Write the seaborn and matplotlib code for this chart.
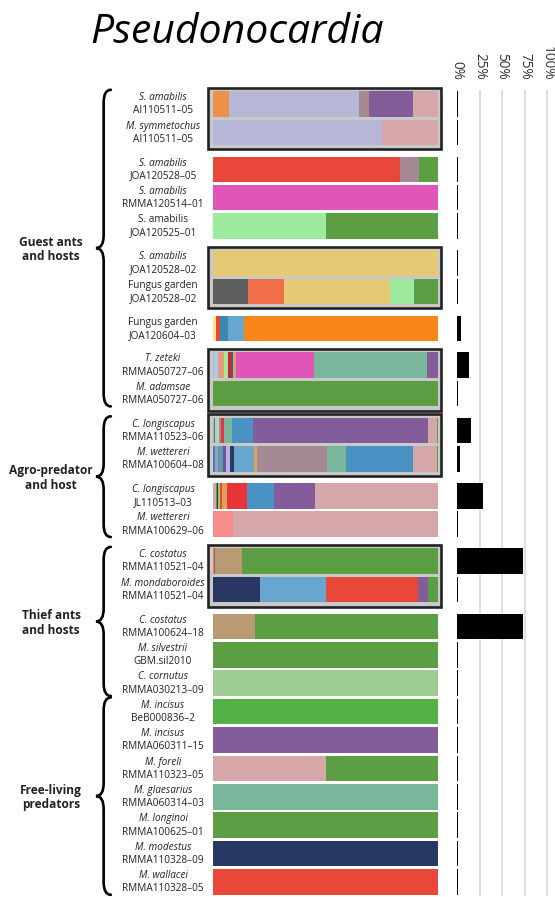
import matplotlib
matplotlib.use("Agg")
import matplotlib.pyplot as plt
from matplotlib.patches import Rectangle, PathPatch
from matplotlib.path import Path
import pandas as pd
import seaborn as sns

# ---- data -----------------------------------------------------------------
species = [
    "S. amabilis", "M. symmetochus", "S. amabilis", "S. amabilis", "S. amabilis",
    "S. amabilis", "Fungus garden", "Fungus garden", "T. zeteki", "M. adamsae",
    "C. longiscapus", "M. wettereri", "C. longiscapus", "M. wettereri",
    "C. costatus", "M. mondaboroides", "C. costatus", "M. silvestrii", "C. cornutus",
    "M. incisus", "M. incisus", "M. foreli", "M. glaesarius", "M. longinoi",
    "M. modestus", "M. wallacei",
]
samples = [
    "AI110511–05", "AI110511–05", "JOA120528–05", "RMMA120514–01", "JOA120525–01",
    "JOA120528–02", "JOA120528–02", "JOA120604–03", "RMMA050727–06", "RMMA050727–06",
    "RMMA110523–06", "RMMA100604–08", "JL110513–03", "RMMA100629–06",
    "RMMA110521–04", "RMMA110521–04", "RMMA100624–18", "GBM.sil2010", "RMMA030213–09",
    "BeB000836–2", "RMMA060311–15", "RMMA110323–05", "RMMA060314–03", "RMMA100625–01",
    "RMMA110328–09", "RMMA110328–05",
]
species_italic = [
    True, True, True, True, False, True, False, False, True, True,
    True, True, True, True, True, True, True, True, True,
    True, True, True, True, True, True, True,
]

# relative abundance of Pseudonocardia phylotypes per sample (%)
compositions = [
    [("orange_lt", 7), ("lavender", 58), ("mauve", 4.5), ("purple", 19.5), ("pink", 11)],
    [("lavender", 75), ("pink", 25)],
    [("red", 83), ("mauve", 8.5), ("green", 8.5)],
    [("magenta", 100)],
    [("mint", 50), ("green", 50)],
    [("sand", 100)],
    [("charcoal", 15.5), ("coral", 16), ("sand", 47), ("mint", 10.8), ("green", 10.7)],
    [("yellow", 1.3), ("red", 1.8), ("teal", 3.5), ("sky", 7), ("orange", 86.4)],
    [("lavender", 0.5), ("ice", 1.5), ("salmon", 3), ("mint", 1.8), ("scarlet", 1.4),
     ("royal", 0.5), ("ochre", 1.3), ("magenta", 35), ("seafoam", 50), ("purple", 5)],
    [("green", 100)],
    [("lime", 0.5), ("purple", 0.5), ("ice", 0.8), ("mint", 0.8), ("mauve", 0.8),
     ("crimson", 1.5), ("seafoam", 3.5), ("blue", 9.3), ("purple", 77.7), ("pink", 4),
     ("green", 0.6)],
    [("teal", 0.9), ("lilac", 1.3), ("cadet", 2.2), ("violet", 1.3), ("lavender", 1.8),
     ("navy", 1.8), ("sky", 8.9), ("ochre", 1.3), ("mauve", 31), ("seafoam", 8.5),
     ("blue", 29.9), ("pink", 10.7), ("green", 0.4)],
    [("pink", 1.3), ("green", 0.5), ("navy", 0.5), ("lime", 0.9), ("red", 0.9),
     ("ochre", 2.2), ("crimson", 8.9), ("blue", 12), ("purple", 18.2), ("pink", 54.6)],
    [("rose", 9), ("pink", 91)],
    [("orange", 0.5), ("purple", 0.5), ("tan", 12), ("green", 87)],
    [("navy", 21), ("sky", 29), ("red", 41), ("purple", 4.5), ("green", 4.5)],
    [("tan", 18.7), ("green", 81.3)],
    [("green", 100)],
    [("sage", 100)],
    [("leaf", 100)],
    [("purple", 100)],
    [("pink", 50), ("green", 50)],
    [("seafoam", 100)],
    [("green", 100)],
    [("navy", 100)],
    [("red", 100)],
]

# share of reads that are Pseudonocardia (%)
pseudonocardia_pct = [
    1.2, 1.2, 1.2, 1.2, 1.2, 1.2, 1.2, 4.4, 13, 1.2,
    15.5, 3.3, 29, 1.2, 73, 1.2, 73, 1.2, 1.2,
    1.2, 1.2, 1.2, 1.2, 1.2, 1.2, 1.2,
]

group_names = ["Guest ants\nand hosts", "Agro-predator\nand host",
               "Thief ants\nand hosts", "Free-living\npredators"]
group_rows = [(0, 9), (10, 13), (14, 18), (19, 25)]
paired_rows = [(0, 1), (5, 6), (8, 9), (10, 11), (14, 15)]
gap_after = [1, 4, 6, 7, 9, 11, 13, 15]
pct_ticks = [0, 25, 50, 75, 100]
pct_labels = ["0%", "25%", "50%", "75%", "100%"]

palette = {
    "orange_lt": "#EE9148", "lavender": "#B7B6D7", "mauve": "#A58A96",
    "purple": "#835C9A", "pink": "#D6A7A9", "red": "#E8473A", "green": "#5C9E43",
    "magenta": "#E055B5", "mint": "#9EEBA0", "sand": "#E5C974", "charcoal": "#5E5E5E",
    "coral": "#F06E49", "yellow": "#F7E58A", "teal": "#3789AF", "sky": "#68A6CF",
    "orange": "#F8861B", "ice": "#A8CDEA", "salmon": "#E99B82", "scarlet": "#E01E1E",
    "royal": "#3064B0", "ochre": "#DFA258", "seafoam": "#79B79C", "lime": "#9ACD5A",
    "crimson": "#E83436", "blue": "#4A92C4", "lilac": "#A993CD", "cadet": "#5A9FA6",
    "violet": "#7A4AA8", "navy": "#293763", "rose": "#F98B8A", "tan": "#B89B74",
    "sage": "#9CCE93", "leaf": "#53B047",
}

# ---- style ----------------------------------------------------------------
sns.set_theme(style="white")
plt.rcParams["font.family"] = ["Open Sans", "DejaVu Sans"]
TEXT = "#222222"

# row positions, with a little extra space between sample blocks
ypos = []
y = 0.0
for i in range(len(species)):
    ypos.append(y)
    y += 1.0 + (0.3 if i in gap_after else 0.0)
y_top, y_bot = ypos[0] - 0.5, ypos[-1] + 0.5

W, H = 555, 897
fig = plt.figure(figsize=(W / 100, H / 100), dpi=100)


def px_box(x0, x1, top, bottom):
    return [x0 / W, 1 - bottom / H, (x1 - x0) / W, (bottom - top) / H]


ax = fig.add_axes(px_box(213, 438, 89.8, 896.2))
ax2 = fig.add_axes(px_box(457, 547.9, 89.8, 896.2))

# ---- stacked composition bars ---------------------------------------------
for yy, comp in zip(ypos, compositions):
    total = sum(v for _, v in comp)
    left = 0.0
    for key, v in comp:
        w = v / total * 100
        ax.barh(yy, w, left=left, height=0.9, color=palette[key], linewidth=0, zorder=2)
        left += w

# frames around ant / host (or garden) pairs from the same colony
for a, b in paired_rows:
    ax.add_patch(Rectangle((-2.2, ypos[a] - 0.58), 103.5, ypos[b] - ypos[a] + 1.18,
                           facecolor="#C9C9C9", edgecolor="#222222", linewidth=1.9,
                           zorder=1, clip_on=False))

ax.set_xlim(0, 100)
ax.set_ylim(y_bot, y_top)
ax.axis("off")

# sample labels
for yy, sp, sm, it in zip(ypos, species, samples, species_italic):
    ax.text(-22.2, yy - 0.22, sp, ha="center", va="center", fontsize=7.2,
            style="italic" if it else "normal", color=TEXT, clip_on=False)
    ax.text(-22.2, yy + 0.24, sm, ha="center", va="center", fontsize=7.2,
            color=TEXT, clip_on=False)


# curly braces and group names
def brace(axis, x_tip, x_spine, x_end, y0, y1, r):
    ym = (y0 + y1) / 2
    verts = [
        (x_end, y0), (x_spine, y0), (x_spine, y0 + r),
        (x_spine, ym - r), (x_spine, ym), (x_tip, ym),
        (x_spine, ym), (x_spine, ym + r),
        (x_spine, y1 - r), (x_spine, y1), (x_end, y1),
    ]
    codes = [Path.MOVETO, Path.CURVE3, Path.CURVE3,
             Path.LINETO, Path.CURVE3, Path.CURVE3,
             Path.CURVE3, Path.CURVE3,
             Path.LINETO, Path.CURVE3, Path.CURVE3]
    axis.add_patch(PathPatch(Path(verts, codes), facecolor="none", edgecolor="black",
                             linewidth=1.9, clip_on=False, capstyle="round"))


for name, (r0, r1) in zip(group_names, group_rows):
    y0 = ypos[r0] - 0.5
    y1 = ypos[r1] + 0.45
    brace(ax, -52.0, -48.6, -45.4, y0, y1, 0.45)
    ax.text(-72.0, (y0 + y1) / 2 + 0.05, name, ha="center", va="center", fontsize=8.6,
            fontweight="bold", color=TEXT, linespacing=1.12, clip_on=False)

# ---- Pseudonocardia share ------------------------------------------------
share = pd.DataFrame({"pct": pseudonocardia_pct, "pos": ypos})
sns.barplot(data=share, x="pct", y="pos", orient="h", native_scale=True,
            color="black", saturation=1, width=0.9, errorbar=None, linewidth=0,
            ax=ax2)
ax2.set_xlim(0, 101)
ax2.set_ylim(y_bot, y_top)
ax2.set_xticks(pct_ticks)
ax2.set_xticklabels(pct_labels)
ax2.xaxis.tick_top()
ax2.tick_params(axis="x", length=0, pad=7, labelsize=9.8, labelcolor="#333333",
                labelrotation=-90)
ax2.set_yticks([])
ax2.set_xlabel("")
ax2.set_ylabel("")
ax2.grid(axis="x", color="#D9D9D9", linewidth=1.2)
ax2.set_axisbelow(True)
ax2.xaxis.get_gridlines()[0].set_visible(False)
for s in ax2.spines.values():
    s.set_visible(False)

# ---- title ----------------------------------------------------------------
fig.text(237 / W, 1 - 43 / H, "Pseudonocardia", ha="center", va="baseline",
         fontsize=29.5, style="italic", color="black")

fig.savefig("out.png", dpi=100)
